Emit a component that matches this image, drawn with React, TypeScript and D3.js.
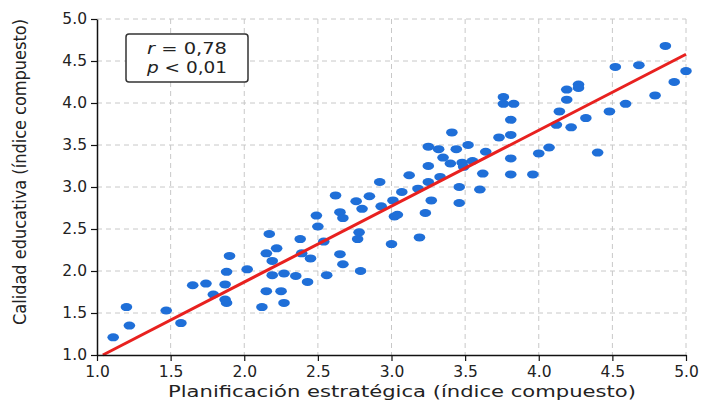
import React, { useRef, useEffect } from 'react';
import * as d3 from 'd3';

// Planificación estratégica (x) vs calidad educativa (y)
const planificacion = [
  1.11, 1.2, 1.22, 1.47, 1.57, 1.65, 1.74, 1.79, 1.87, 1.88, 1.9, 1.87, 1.88, 2.02, 2.12, 2.15, 2.17, 2.19,
  2.22, 2.19, 2.15, 2.25, 2.27, 2.27, 2.35, 2.43, 2.38, 2.39, 2.45, 2.49, 2.5, 2.54, 2.56, 2.62, 2.65, 2.67,
  2.65, 2.67, 2.76, 2.8, 2.78, 2.77, 2.79, 2.85, 2.92, 2.93, 3.01, 3.02, 3.04, 3.07, 3.0, 3.12, 3.18, 3.23,
  3.19, 3.25, 3.25, 3.25, 3.27, 3.33, 3.32, 3.35, 3.4, 3.41, 3.44, 3.46, 3.46, 3.48, 3.49, 3.52, 3.55, 3.6,
  3.62, 3.64, 3.73, 3.76, 3.76, 3.83, 3.81, 3.81, 3.81, 3.81, 3.96, 4.0, 4.07, 4.12, 4.14, 4.19, 4.19, 4.22,
  4.27, 4.27, 4.32, 4.4, 4.48, 4.52, 4.59, 4.68, 4.79, 4.86, 4.92, 5.0,
];
const calidad = [
  1.21, 1.57, 1.35, 1.53, 1.38, 1.83, 1.85, 1.72, 1.84, 1.99, 2.18, 1.66, 1.62, 2.02, 1.57, 2.21, 2.44, 2.12,
  2.27, 1.95, 1.76, 1.76, 1.97, 1.62, 1.94, 1.87, 2.38, 2.21, 2.15, 2.66, 2.53, 2.35, 1.95, 2.9, 2.7, 2.63,
  2.2, 2.08, 2.83, 2.74, 2.46, 2.38, 2.0, 2.89, 3.06, 2.77, 2.84, 2.65, 2.67, 2.94, 2.32, 3.14, 2.98, 2.69,
  2.4, 3.25, 3.06, 3.48, 2.84, 3.12, 3.45, 3.35, 3.28, 3.65, 3.45, 3.0, 2.81, 3.29, 3.24, 3.5, 3.31, 2.97,
  3.16, 3.42, 3.59, 4.07, 3.99, 3.99, 3.8, 3.62, 3.34, 3.15, 3.15, 3.4, 3.47, 3.74, 3.9, 4.04, 4.16, 3.71,
  4.22, 4.18, 3.82, 3.41, 3.9, 4.43, 3.99, 4.45, 4.09, 4.68, 4.25, 4.38,
];
const tickValues = [1.0, 1.5, 2.0, 2.5, 3.0, 3.5, 4.0, 4.5, 5.0];

// fitted regression line
const fitSlope = 0.904;
const fitIntercept = 0.06;
const fitRange = [1.04, 5.0];

const App = () => {
  const chartRef = useRef<SVGSVGElement>(null);
  const width = 701;
  const height = 401;

  useEffect(() => {
    const margin = { top: 19, right: 15, bottom: 46, left: 97 };
    const innerW = width - margin.left - margin.right;
    const innerH = height - margin.top - margin.bottom;

    const svg = d3.select(chartRef.current);
    svg.selectAll('*').remove();
    const g = svg.append('g').attr('transform', `translate(${margin.left},${margin.top})`);

    const xScale = d3.scaleLinear().domain([1, 5]).range([0, innerW]);
    const yScale = d3.scaleLinear().domain([1, 5]).range([innerH, 0]);

    // dashed grid
    g.append('g')
      .selectAll('line')
      .data(tickValues.slice(1))
      .join('line')
      .attr('x1', (d) => xScale(d))
      .attr('x2', (d) => xScale(d))
      .attr('y1', 0)
      .attr('y2', innerH)
      .attr('stroke', '#c8c8c8')
      .attr('stroke-width', 1)
      .attr('stroke-dasharray', '5,4');
    g.append('g')
      .selectAll('line')
      .data(tickValues.slice(1))
      .join('line')
      .attr('x1', 0)
      .attr('x2', innerW)
      .attr('y1', (d) => yScale(d))
      .attr('y2', (d) => yScale(d))
      .attr('stroke', '#c8c8c8')
      .attr('stroke-width', 1)
      .attr('stroke-dasharray', '5,4');

    // points
    const pts = planificacion.map((x, i) => ({ x, y: calidad[i] }));
    g.append('g')
      .selectAll('ellipse')
      .data(pts)
      .join('ellipse')
      .attr('cx', (d) => xScale(d.x))
      .attr('cy', (d) => yScale(d.y))
      .attr('rx', 5.8)
      .attr('ry', 4)
      .attr('fill', '#1f6fd8');

    // regression line
    const line = d3
      .line<number>()
      .x((d) => xScale(d))
      .y((d) => yScale(fitIntercept + fitSlope * d));
    g.append('path')
      .datum(fitRange)
      .attr('d', line)
      .attr('fill', 'none')
      .attr('stroke', '#e8211f')
      .attr('stroke-width', 3);

    // axes
    const fmt = d3.format('.1f');
    const xAxis = g
      .append('g')
      .attr('transform', `translate(0,${innerH})`)
      .call(d3.axisBottom(xScale).tickValues(tickValues).tickFormat((d) => fmt(d as number)).tickSize(6).tickSizeOuter(0));
    const yAxis = g
      .append('g')
      .call(d3.axisLeft(yScale).tickValues(tickValues).tickFormat((d) => fmt(d as number)).tickSize(6).tickSizeOuter(0));
    [xAxis, yAxis].forEach((ax) => {
      ax.select('.domain').attr('stroke', '#111').attr('stroke-width', 1.5);
      ax.selectAll('.tick line').attr('stroke', '#111').attr('stroke-width', 1.2);
      ax.selectAll('.tick text')
        .attr('font-family', 'DejaVu Sans, sans-serif')
        .attr('font-size', 15.5)
        .attr('fill', '#222');
    });
    xAxis.selectAll('.tick text').attr('y', 8).attr('dy', '0.9em');
    yAxis.selectAll('.tick text').attr('x', -10);

    // axis titles
    svg
      .append('text')
      .attr('x', 402)
      .attr('y', 397)
      .attr('text-anchor', 'middle')
      .attr('font-family', 'DejaVu Sans, sans-serif')
      .attr('font-size', 16.5)
      .attr('fill', '#222')
      .attr('textLength', 468)
      .attr('lengthAdjust', 'spacingAndGlyphs')
      .text('Planificación estratégica (índice compuesto)');
    svg
      .append('text')
      .attr('transform', 'translate(26,172) rotate(-90)')
      .attr('text-anchor', 'middle')
      .attr('font-family', 'DejaVu Sans Condensed, DejaVu Sans, sans-serif')
      .attr('font-size', 17)
      .attr('fill', '#222')
      .attr('textLength', 306)
      .attr('lengthAdjust', 'spacingAndGlyphs')
      .text('Calidad educativa (índice compuesto)');

    // stats box
    svg
      .append('rect')
      .attr('x', 126)
      .attr('y', 34)
      .attr('width', 122)
      .attr('height', 48)
      .attr('rx', 3)
      .attr('fill', '#fff')
      .attr('stroke', '#333')
      .attr('stroke-width', 1.5);
    const stats = [
      { sym: 'r', rest: ' = 0,78', y: 54 },
      { sym: 'p', rest: ' < 0,01', y: 73 },
    ];
    stats.forEach((s) => {
      const t = svg
        .append('text')
        .attr('x', 187)
        .attr('y', s.y)
        .attr('text-anchor', 'middle')
        .attr('font-family', 'DejaVu Sans, sans-serif')
        .attr('font-size', 16)
        .attr('fill', '#222')
        .attr('textLength', 80)
        .attr('lengthAdjust', 'spacingAndGlyphs');
      t.append('tspan').attr('font-style', 'italic').text(s.sym);
      t.append('tspan').text(s.rest);
    });
  }, []);

  return (
    <svg
      ref={chartRef}
      width={width}
      height={height}
      style={{ position: 'absolute', left: 0, top: 0, background: '#fff' }}
    />
  );
};

export default App;
